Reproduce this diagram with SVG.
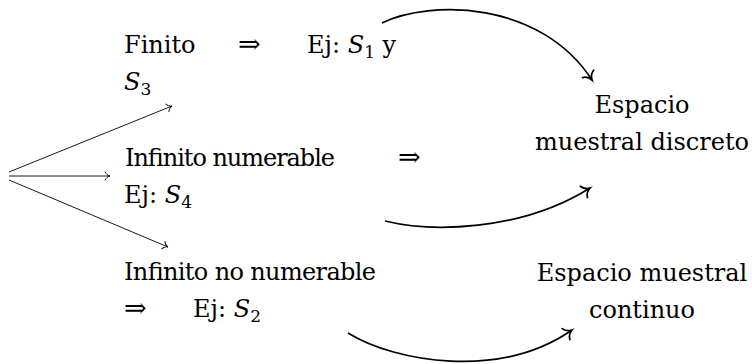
<svg xmlns="http://www.w3.org/2000/svg" width="752" height="364" viewBox="0 0 752 364">
<style>
  text { font-family: 'DejaVu Serif', 'Liberation Serif', serif; font-size: 24px; fill: #000; }
  .m { font-style: italic; }
  .sub { font-size: 17px; font-style: normal; }
  .ar { font-family: 'DejaVu Serif', serif; font-size: 27px; }
  .thin { fill: none; stroke: #000; stroke-width: 0.9; }
  .thick { fill: none; stroke: #000; stroke-width: 1.7; }
  .c { text-anchor: middle; }
</style>
<defs>
  <marker id="toS" markerUnits="userSpaceOnUse" markerWidth="14" markerHeight="14" refX="0" refY="0" viewBox="-8 -7 10 14" orient="auto" overflow="visible">
    <path d="M-5,-4.2 C-4,-1.6 -1.6,-0.4 0,0 C-1.6,0.4 -4,1.6 -5,4.2" fill="none" stroke="#000" stroke-width="0.9" stroke-linecap="round"/>
  </marker>
  <marker id="toL" markerUnits="userSpaceOnUse" markerWidth="20" markerHeight="20" refX="0" refY="0" viewBox="-10 -9 12 18" orient="auto" overflow="visible">
    <path d="M-6.5,-6 C-5.2,-2.2 -2.2,-0.6 0,0 C-2.2,0.6 -5.2,2.2 -6.5,6" fill="none" stroke="#000" stroke-width="1.6" stroke-linecap="round"/>
  </marker>
</defs>

<g id="connectors">
  <path class="thin" d="M9,172 L172,106" marker-end="url(#toS)"/>
  <path class="thin" d="M9,176 L110,176" marker-end="url(#toS)"/>
  <path class="thin" d="M9,180 L168,247" marker-end="url(#toS)"/>
  <path class="thick" d="M382,23 C430,0 540,0 592,80" marker-end="url(#toL)"/>
  <path class="thick" d="M385,221 C430,232 520,232 590,188" marker-end="url(#toL)"/>
  <path class="thick" d="M348,333 C395,362 500,380 572,330" marker-end="url(#toL)"/>
</g>

<g id="finito">
  <text x="124" y="53">Finito</text>
  <text class="ar" x="238" y="53">⇒</text>
  <text x="307" y="53">Ej: <tspan class="m">S</tspan><tspan class="sub" dy="5">1</tspan><tspan dy="-5"> y</tspan></text>
  <text x="124" y="90"><tspan class="m">S</tspan><tspan class="sub" dy="5">3</tspan></text>
</g>

<g id="infinito-numerable">
  <text x="125" y="166" textLength="210" lengthAdjust="spacing">Infinito numerable</text>
  <text class="ar" x="398" y="166">⇒</text>
  <text x="124" y="203">Ej: <tspan class="m">S</tspan><tspan class="sub" dy="5">4</tspan></text>
</g>

<g id="infinito-no-numerable">
  <text x="124" y="280" textLength="252" lengthAdjust="spacing">Infinito no numerable</text>
  <text class="ar" x="124" y="317">⇒</text>
  <text x="193" y="317">Ej: <tspan class="m">S</tspan><tspan class="sub" dy="5">2</tspan></text>
</g>

<g id="discreto">
  <text class="c" x="642" y="113">Espacio</text>
  <text class="c" x="642" y="150">muestral discreto</text>
</g>

<g id="continuo">
  <text class="c" x="642" y="281">Espacio muestral</text>
  <text class="c" x="642" y="318">continuo</text>
</g>
</svg>
